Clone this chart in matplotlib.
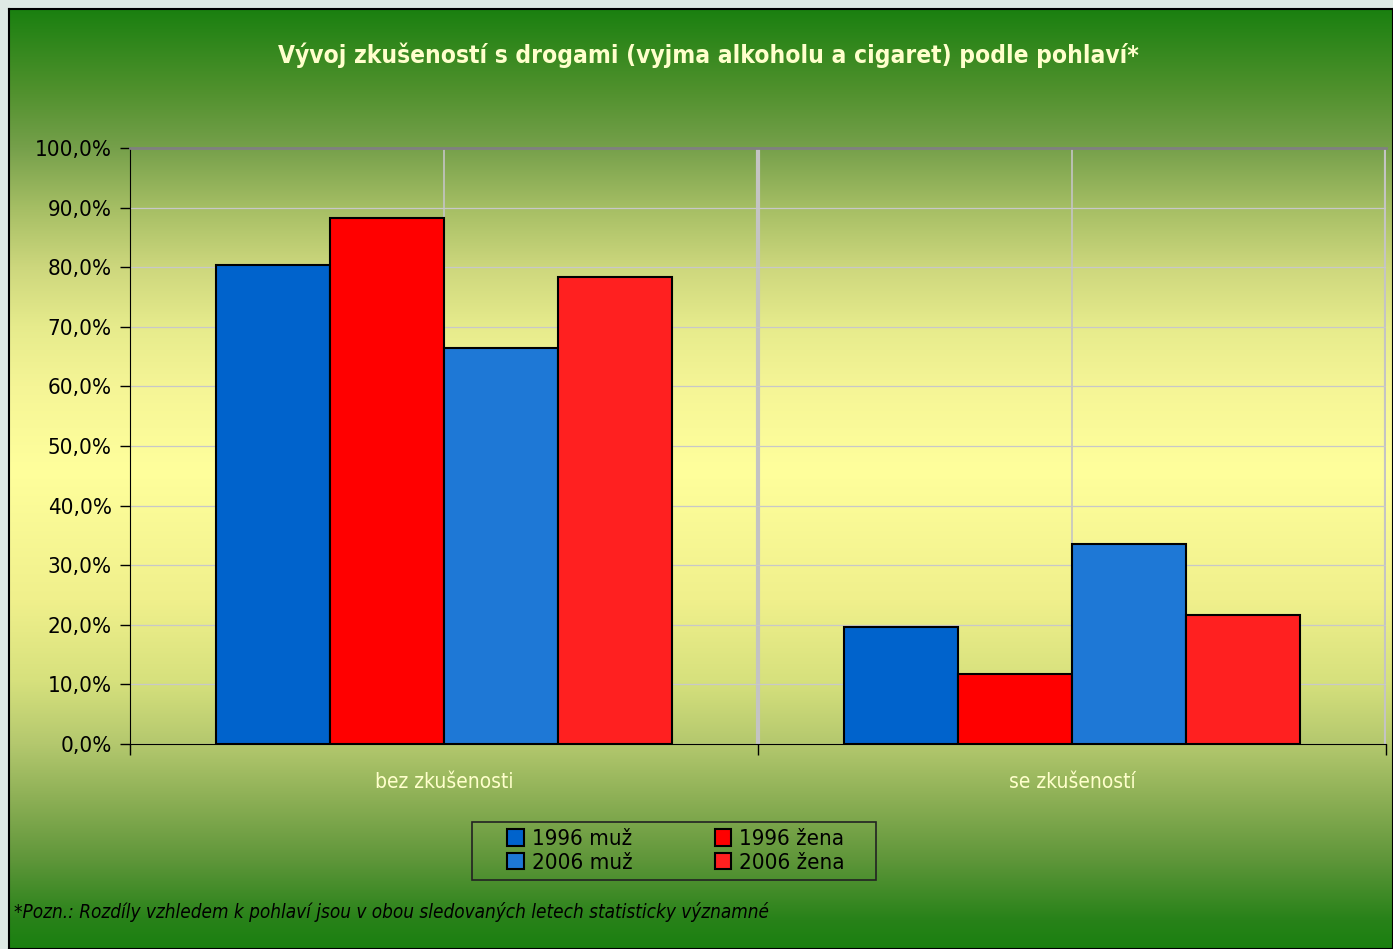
"""Vývoj zkušeností s drogami podle pohlaví - grouped bar chart on gradient slide."""
import numpy as np
import matplotlib
matplotlib.use("Agg")
import matplotlib.pyplot as plt
from matplotlib import font_manager
from matplotlib.patches import Rectangle

# Data (percent)
categories = ["bez zkušenosti", "se zkušeností"]
series_names = ["1996 muž", "1996 žena", "2006 muž", "2006 žena"]
muz_1996 = [80.4, 19.6]
zena_1996 = [88.3, 11.7]
muz_2006 = [66.4, 33.6]
zena_2006 = [78.4, 21.6]
y_ticks = [0, 10, 20, 30, 40, 50, 60, 70, 80, 90, 100]

series_values = [muz_1996, zena_1996, muz_2006, zena_2006]
series_colors = ["#0063cc", "#ff0000", "#1e78d6", "#ff2020"]

# pick a narrow face if one is installed
fonts = font_manager.fontManager.ttflist
names = {f.name for f in fonts}
stretch = "normal"
if "Liberation Sans Narrow" in names:
    family = "Liberation Sans Narrow"
else:
    family = "DejaVu Sans"
    if any(f.name == "DejaVu Sans" and f.stretch == "condensed" for f in fonts):
        stretch = "condensed"
plt.rcParams["font.family"] = [family, "DejaVu Sans"]
plt.rcParams["font.stretch"] = stretch

W, H = 1393, 949
fig = plt.figure(figsize=(W / 100, H / 100), dpi=100)
fig.patch.set_facecolor("#dfeae4")

# gradient backdrop: green -> pale yellow -> green (stops in pixel rows)
bg = fig.add_axes([9 / W, 0, (W - 9) / W, (H - 9) / H])
stops_y = [9, 90, 148, 207, 267, 326, 386, 470, 600, 680, 744, 800, 860, 920, 949]
stops_c = np.array([
    [26, 128, 16], [80, 145, 45], [118, 160, 75], [165, 190, 100],
    [205, 215, 125], [230, 235, 140], [245, 245, 150], [255, 255, 156],
    [240, 240, 140], [215, 225, 125], [180, 200, 110], [140, 175, 85],
    [95, 150, 58], [40, 130, 25], [26, 128, 16],
]) / 255
rows = np.arange(9, 950)
grad = np.stack([np.interp(rows, stops_y, stops_c[:, k]) for k in range(3)], axis=1)
bg.imshow(grad[:, None, :], aspect="auto", extent=[0, 1, 0, 1], origin="upper")
bg.set_xticks([])
bg.set_yticks([])
for s in bg.spines.values():
    s.set_color("black")
    s.set_linewidth(1.5)

ax = fig.add_axes([130 / W, (H - 744) / H, (1386 - 130) / W, (744 - 148) / H])
ax.patch.set_alpha(0)

x = np.arange(len(categories))
w = 0.1815
offsets = np.array([-1.5, -0.5, 0.5, 1.5]) * w
bars = []
for vals, off, col, name in zip(series_values, offsets, series_colors, series_names):
    b = ax.bar(x + off, vals, width=w, color=col, edgecolor="black", linewidth=1.5,
               label=name, zorder=3)
    bars.append(b)

ax.set_xlim(-0.5, 1.5)
ax.set_ylim(0, 100)
ax.set_yticks(y_ticks)
ax.set_yticklabels([f"{v:.1f}%".replace(".", ",") for v in y_ticks], fontsize=16)
ax.yaxis.grid(True, color="#c8c8c8", linewidth=0.9, zorder=0)
for xv, lw in [(0, 1.2), (0.5, 3), (1, 1.2), (1.5, 3)]:
    ax.axvline(xv, color="#c4c4c4", linewidth=lw, zorder=1)

ax.set_xticks([-0.5, 0.5, 1.5])
ax.set_xticklabels([])
ax.tick_params(axis="x", direction="out", length=8, width=1, color="black")
ax.tick_params(axis="y", direction="out", length=7, width=1, color="black", pad=6)
ax.spines["left"].set_color("black")
ax.spines["bottom"].set_color("black")
ax.spines["top"].set_color("#808080")
ax.spines["top"].set_linewidth(2)
ax.spines["right"].set_visible(False)
ax.spines["bottom"].set_zorder(4)

for xi, cat in zip(x, categories):
    ax.text(xi, -6.4, cat, ha="center", va="center", fontsize=15, color="#ffffcc")

fig.text(708 / W, 1 - 55 / H,
         "Vývoj zkušeností s drogami (vyjma alkoholu a cigaret) podle pohlaví*",
         ha="center", va="center", fontsize=17.6, fontweight="bold", color="#ffffcc")

# legend box drawn separately so the padding can be wide but short
fig.add_artist(Rectangle((472 / W, 1 - 880 / H), (876 - 472) / W, 58 / H,
                         transform=fig.transFigure, fill=False,
                         edgecolor="#222222", linewidth=1.2))
# row-wise legend order: 1996 muž, 1996 žena / 2006 muž, 2006 žena
order = [0, 2, 1, 3]
leg = fig.legend([bars[i] for i in order], [series_names[i] for i in order],
                 loc="center", bbox_to_anchor=(676 / W, 1 - 851 / H), ncol=2,
                 fontsize=16, frameon=False, handlelength=0.75, handleheight=0.75,
                 handletextpad=0.35, columnspacing=3.7, labelspacing=0.15,
                 borderpad=0.0, borderaxespad=0)

fig.text(14 / W, 1 - 912 / H,
         "*Pozn.: Rozdíly vzhledem k pohlaví jsou v obou sledovaných letech statisticky významné",
         ha="left", va="center", fontsize=13.6, style="italic", color="black")

fig.savefig("out.png", dpi=100, facecolor=fig.get_facecolor())
